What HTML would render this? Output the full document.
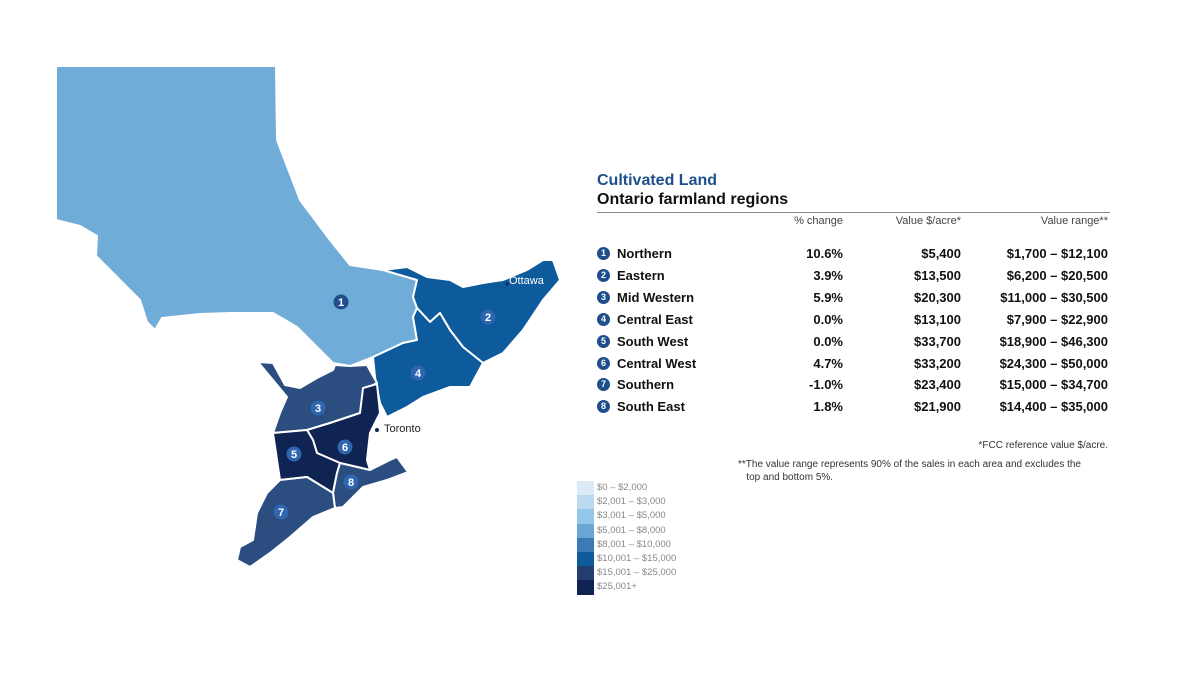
<!DOCTYPE html>
<html><head><meta charset="utf-8"><style>
body{margin:0;background:#fff;font-family:"Liberation Sans",sans-serif}
#c{position:relative;width:1200px;height:675px;overflow:hidden}
.t{position:absolute;white-space:nowrap}
</style></head><body><div id="c">
<svg width="1200" height="675" style="position:absolute;left:0;top:0">
<g stroke="#fff" stroke-width="2" stroke-linejoin="round">
<polygon fill="#70acd8" points="56,66 276,66 277,140 300,200 330,240 350,265 383,270 417,280 413,297 417,308 413,317 417,340 403,343 373,357 350,366 333,363 297,327 273,313 230,313 200,314 162,318 155,330 147,322 140,300 118,278 96,256 97,236 80,226 56,220"/>
<polygon fill="#0d5a9c" points="383,270 407,267 427,277 450,280 463,287 483,283 503,280 527,270 543,260 553,260 560,280 543,300 523,330 503,353 483,363 463,347 450,330 440,313 430,322 417,308 413,297 417,280"/>
<polygon fill="#0d5a9c" points="417,308 430,322 440,313 450,330 463,347 483,363 470,387 450,387 423,397 407,407 387,417 380,403 375,377 373,357 403,343 417,340 413,317"/>
<polygon fill="#2b4d80" points="258,362 273,363 285,385 300,388 317,378 333,370 335,365 350,366 367,365 377,383 367,388 360,413 330,423 307,430 273,433 280,413 287,397"/>
<polygon fill="#0f2452" points="363,388 377,384 380,413 370,433 367,460 370,470 340,463 317,453 313,440 307,430 330,423 360,413"/>
<polygon fill="#0f2452" points="273,433 307,430 313,440 317,453 340,463 337,473 333,493 307,477 280,480"/>
<polygon fill="#2b4d80" points="340,463 370,470 390,460 397,457 408,472 387,480 363,487 343,507 335,508 333,493 337,473"/>
<polygon fill="#2b4d80" points="280,480 307,477 333,493 335,508 313,517 290,537 270,553 250,567 237,560 240,547 253,540 257,513 267,493"/>
</g>
<g font-size="11" font-weight="bold" fill="#fff" text-anchor="middle" font-family="Liberation Sans,sans-serif" id="badges"></g>
<circle cx="377" cy="430" r="2" fill="#0f2452"/>
<circle cx="507" cy="284" r="1.5" fill="#0f2452"/>
</svg>
<div class="t" style="left:384px;top:423px;font-size:11px;color:#222">Toronto</div>
<div class="t" style="left:509px;top:275px;font-size:11px;color:#fff">Ottawa</div>
<div class="t" style="left:597px;top:172px;font-size:16px;font-weight:bold;color:#1e4e8c">Cultivated Land</div>
<div class="t" style="left:597px;top:191px;font-size:16px;font-weight:bold;color:#111">Ontario farmland regions</div>
<div style="position:absolute;left:597px;top:212px;width:513px;height:1px;background:#888"></div>
<div class="t" style="right:92px;top:440px;font-size:10px;color:#333">*FCC reference value $/acre.</div>
<div class="t" style="left:738px;top:458px;font-size:10px;color:#333;line-height:13px">**The value range represents 90% of the sales in each area and excludes the<br>&nbsp;&nbsp;&nbsp;top and bottom 5%.</div>
</div>
<script>
const names=["Northern","Eastern","Mid Western","Central East","South West","Central West","Southern","South East"];
const pct=["10.6%","3.9%","5.9%","0.0%","0.0%","4.7%","-1.0%","1.8%"];
const vals=["$5,400","$13,500","$20,300","$13,100","$33,700","$33,200","$23,400","$21,900"];
const ranges=["$1,700 – $12,100","$6,200 – $20,500","$11,000 – $30,500","$7,900 – $22,900","$18,900 – $46,300","$24,300 – $50,000","$15,000 – $34,700","$14,400 – $35,000"];
const legLabels=["$0 – $2,000","$2,001 – $3,000","$3,001 – $5,000","$5,001 – $8,000","$8,001 – $10,000","$10,001 – $15,000","$15,001 – $25,000","$25,001+"];
const legColors=["#dbeaf6","#bcd9f0","#94c6ea","#6aa5d4","#3b7ab5","#0d5a9c","#243f6f","#0f2452"];
const badgePos=[[341,302],[488,317],[318,408],[418,373],[294,454],[345,447],[281,512],[351,482]];
const c=document.getElementById('c');
function txt(x,y,s,st,name,right){const d=document.createElement('div');d.className='t';d.textContent=s;


d.style.cssText=st+';top:'+y+'px;'+(right?'right:'+(1200-x)+'px':'left:'+x+'px');c.appendChild(d);return d;}
txt(843,215,"% change","font-size:11px;color:#444","header-pct",1);
txt(961,215,"Value $/acre*","font-size:11px;color:#444","header-value",1);
txt(1108,215,"Value range**","font-size:11px;color:#444","header-range",1);
names.forEach((n,i)=>{const y=246+i*21.9;
const b=document.createElement('div');b.textContent=i+1;


b.style.cssText='position:absolute;left:597px;top:'+(y+1)+'px;width:13px;height:13px;border-radius:50%;background:#1e4e8c;color:#fff;font-size:9px;font-weight:bold;text-align:center;line-height:13px';c.appendChild(b);
txt(617,y,n,"font-size:13px;font-weight:bold;color:#111","row-name");
txt(843,y,pct[i],"font-size:13px;font-weight:bold;color:#111","row-pct",1);
txt(961,y,vals[i],"font-size:13px;font-weight:bold;color:#111","row-value",1);
txt(1108,y,ranges[i],"font-size:13px;font-weight:bold;color:#111","row-range",1);});
legLabels.forEach((l,i)=>{const y=481+i*14.2;const s=document.createElement('div');


s.style.cssText='position:absolute;left:577px;top:'+y+'px;width:17px;height:14.3px;background:'+legColors[i];c.appendChild(s);
txt(597,y+1,l,"font-size:9.5px;color:#888","legend-label");});
const g=document.getElementById('badges');
badgePos.forEach((p,i)=>{const ci=document.createElementNS('http://www.w3.org/2000/svg','circle');


ci.setAttribute('cx',p[0]);ci.setAttribute('cy',p[1]);ci.setAttribute('r',7.5);ci.setAttribute('fill',i==0?'#1e4e8c':'#2f66b0');g.appendChild(ci);
const t=document.createElementNS('http://www.w3.org/2000/svg','text');


t.setAttribute('x',p[0]);t.setAttribute('y',p[1]+4);t.textContent=i+1;g.appendChild(t);});
</script></body></html>
